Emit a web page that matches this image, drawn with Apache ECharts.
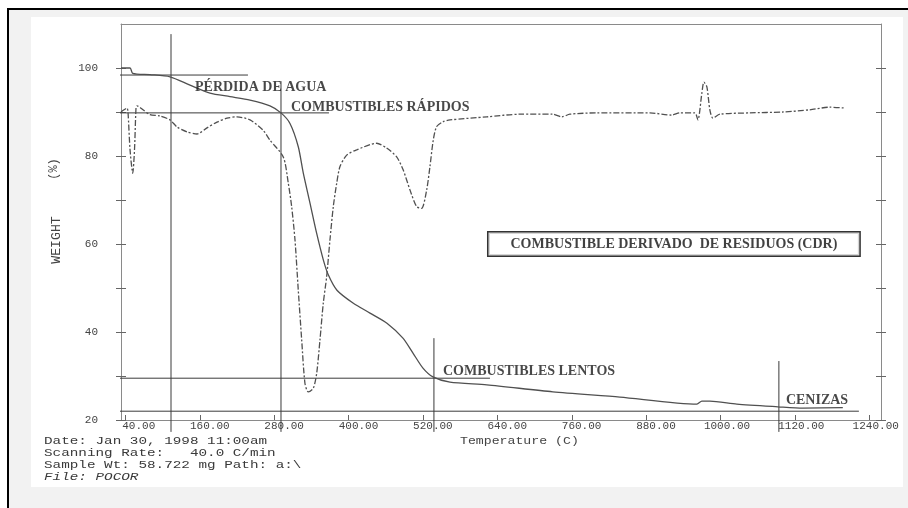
<!DOCTYPE html>
<html>
<head>
<meta charset="utf-8">
<script src="https://cdn.jsdelivr.net/npm/echarts@6/dist/echarts.min.js"></script>
<style>html,body{margin:0;padding:0;background:#fff}#c{width:908px;height:508px}</style>
</head>
<body>
<div id="c"></div>
<script>
// ---- axis ticks / labels ----
const xTickValues = [40,160,280,400,520,640,760,880,1000,1120,1240];
const xTickLabels = ['40.00','160.00','280.00','400.00','520.00','640.00','760.00','880.00','1000.00','1120.00','1240.00'];
const yTickValues = [20,30,40,50,60,70,80,90,100];
const yLabelValues = [20,40,60,80,100];
const yTickLabels = ['20','40','60','80','100'];

// ---- TGA weight curve (solid): [temperature C, weight %] ----
const weightTemp = [32.5,47.1,51.4,79.3,111.6,143.9,176.1,208.4,240.7,272.9,290.7,305.2,318.6,326.7,337.5,348.3,359.0,367.0,381.0,406.9,434.3,461.7,487.5,503.7,519.8,535.9,563.4,623.0,729.5,837.6,961.9,969.9,982.8,1026.4,1092.6,1132.9,1197.4];
const weightPct  = [100.0,100.0,98.8,98.5,98.0,96.1,94.3,93.5,92.7,91.4,89.8,87.4,82.1,76.1,69.3,62.4,56.4,53.0,49.5,46.6,44.3,42.0,38.6,35.2,31.8,29.8,28.6,28.0,26.4,25.2,23.6,24.3,24.3,23.6,23.0,22.7,22.8];

// ---- derivative curve (dash-dot): [temperature C, plotted value] ----
const derivTemp = [32.5,37.4,42.2,43.8,47.1,51.4,54.3,56.7,58.3,68.0,79.3,95.5,111.6,122.9,139.0,155.2,171.3,187.4,203.6,219.7,240.7,261.6,272.9,294.4,302.5,307.9,313.3,318.6,324.1,329.4,334.7,342.8,348.3,353.6,358.9,364.4,369.7,375.1,380.6,385.9,396.7,412.8,445.1,461.2,477.4,488.0,498.8,509.6,517.7,525.8,531.1,536.4,541.9,552.5,563.4,623.0,676.3,729.5,744.1,756.9,800.5,886.0,921.5,934.4,958.6,963.5,969.9,973.2,978.0,982.8,987.7,999.0,1047.4,1100.6,1144.2,1176.4,1200.6];
const derivVal  = [90.0,90.5,90.9,90.0,81.4,76.1,81.4,90.9,91.4,90.5,89.4,89.1,88.2,86.6,85.5,85.0,86.4,87.7,88.6,88.9,88.2,85.9,83.6,79.8,73.8,68.5,60.9,49.5,38.2,28.3,26.4,27.2,30.6,38.2,46.5,52.6,60.9,68.5,73.8,77.6,80.2,81.4,82.9,81.8,79.8,76.8,72.3,68.5,68.1,72.3,77.6,83.6,86.7,87.8,88.2,88.9,89.5,89.5,88.9,89.5,89.8,89.8,89.3,89.8,89.8,88.2,94.3,96.8,95.7,90.5,88.6,89.5,89.8,90.0,90.5,91.1,90.9];

// ---- guide lines (data units) ----
const guideLeft = -72.3;
const guideHy    = [98.4, 89.8, 29.5, 22.0];
const guideHxEnd = [237.4, 368.1, 627.9, 1223.3];
const guideVx    = [113.2, 290.7, 537.5, 1094.2];
const guideVyTop = [107.7, 97.0, 38.6, 33.4];
const guideBottom = 17.3;

// ---- annotation texts (data units: left x / centre y) ----
const noteText = ['PÉRDIDA DE AGUA','COMBUSTIBLES RÁPIDOS','COMBUSTIBLES LENTOS','CENIZAS'];
const noteX = [151.9, 306.8, 552.1, 1105.5];
const noteY = [95.5, 91.1, 31.1, 24.5];
const boxText = 'COMBUSTIBLE DERIVADO  DE RESIDUOS (CDR)';
const boxX = 924.8, boxY = 60;

const footerLines = ['Date: Jan 30, 1998 11:00am','Scanning Rate:   40.0 C/min','Sample Wt: 58.722 mg Path: a:\\','File: POCOR'];

const zip = (a,b) => a.map((v,i)=>[v,b[i]]);
const mono = 'Liberation Mono, DejaVu Sans Mono, monospace';
const serif = 'Liberation Serif, Times New Roman, serif';

const series = [];
series.push({type:'line', data: zip(weightTemp, weightPct), showSymbol:false, symbol:'none', smooth:0.25,
  lineStyle:{color:'#505050', width:1.3}, z:5, silent:true});
series.push({type:'line', data: zip(derivTemp, derivVal), showSymbol:false, symbol:'none', smooth:0.25,
  lineStyle:{color:'#505050', width:1.3, type:[6,2,2,2]}, z:5, silent:true});
guideHy.forEach((y,i)=>{
  series.push({type:'line', data:[[guideLeft,y],[guideHxEnd[i],y]], symbol:'none', clip:false, silent:true,
    lineStyle:{color:'#3a3a3a', width:1}, z:4});
});
guideVx.forEach((x,i)=>{
  series.push({type:'line', data:[[x,guideVyTop[i]],[x,guideBottom]], symbol:'none', clip:false, silent:true,
    lineStyle:{color:'#3a3a3a', width:1}, z:4});
});
series.push({type:'scatter', symbolSize:0, silent:true, clip:false, z:6,
  data: noteText.map((t,i)=>({value:[noteX[i], noteY[i]], label:{show:true, formatter:t, position:'right', distance:0,
    fontFamily:serif, fontWeight:'bold', fontSize:14, color:'#1a1a1a'}}))
});
series.push({type:'scatter', symbolSize:0, silent:true, clip:false, z:6,
  data:[{value:[boxX, boxY], label:{show:true, formatter:boxText, position:'inside', align:'center', verticalAlign:'middle',
    fontFamily:serif, fontWeight:'bold', fontSize:14, color:'#111', backgroundColor:'#fff',
    borderColor:'#000', borderWidth:1.5, padding:[5,22,4,22]}}]
});

const graphic = [
  {type:'rect', z:-20, silent:true, shape:{x:8,y:9,width:1000,height:600}, style:{fill:'#f2f2f2', stroke:'#000', lineWidth:2}},
  {type:'rect', z:-19, silent:true, shape:{x:31,y:17,width:872,height:470}, style:{fill:'#fff'}},
  {type:'text', x:57, y:240, rotation:Math.PI/2, scaleX:1.1, silent:true, style:{text:'WEIGHT', font:'12px '+mono, fill:'#444', align:'center', verticalAlign:'middle'}},
  {type:'text', x:54, y:169, rotation:Math.PI/2, silent:true, style:{text:'(%)', font:'12px '+mono, fill:'#444', align:'center', verticalAlign:'middle'}},
  {type:'text', x:460, y:441, scaleX:1.2, silent:true, style:{text:'Temperature (C)', font:'11px '+mono, fill:'#444', align:'left', verticalAlign:'middle'}}
];
footerLines.forEach((t,i)=>{
  graphic.push({type:'text', x:44, y:441+12*i, scaleX:1.3, silent:true,
    style:{text:t, font:(i===3?'italic ':'')+'11px '+mono, fill:'#3a3a3a', align:'left', verticalAlign:'middle'}});
});

const frameLine = {show:true, lineStyle:{color:'#8a8a8a', width:1}};
const option = {
  backgroundColor:'#fff',
  animation:false,
  grid:{left:121, right:27, top:24, bottom:88, containLabel:false},
  xAxis:[
    {type:'value', min:32.5, max:1259, position:'bottom', axisLine:frameLine,
     splitLine:{show:false},
     axisTick:{show:true, inside:true, length:5, customValues:xTickValues, lineStyle:{color:'#666'}},
     axisLabel:{show:true, customValues:xTickValues, margin:1, fontFamily:mono, fontSize:11, color:'#444',
       align:'center', padding:[0,0,0,13],
       formatter:(v)=>{const i=xTickValues.indexOf(v); return (i>=0?xTickLabels[i]:'').padStart(7,' ');}}},
    {type:'value', min:32.5, max:1259, position:'top', axisLine:frameLine, axisTick:{show:false}, axisLabel:{show:false}, splitLine:{show:false}}
  ],
  yAxis:[
    {type:'value', min:20, max:110, position:'left', axisLine:frameLine, splitLine:{show:false},
     axisTick:{show:true, inside:false, length:5, customValues:yTickValues, lineStyle:{color:'#666'}},
     axisLabel:{show:true, customValues:yLabelValues, margin:23, fontFamily:mono, fontSize:11, color:'#444',
       formatter:(v)=>{const i=yLabelValues.indexOf(v); return i>=0?yTickLabels[i]:'';}}},
    {type:'value', min:20, max:110, position:'left', axisLine:{show:false}, splitLine:{show:false},
     axisTick:{show:true, inside:true, length:5, customValues:yTickValues, lineStyle:{color:'#666'}}, axisLabel:{show:false}},
    {type:'value', min:20, max:110, position:'right', axisLine:frameLine, splitLine:{show:false},
     axisTick:{show:true, inside:true, length:5, customValues:yTickValues, lineStyle:{color:'#666'}}, axisLabel:{show:false}},
    {type:'value', min:20, max:110, position:'right', axisLine:{show:false}, splitLine:{show:false},
     axisTick:{show:true, inside:false, length:5, customValues:yTickValues, lineStyle:{color:'#666'}}, axisLabel:{show:false}}
  ],
  graphic: graphic,
  series: series
};
const chart = echarts.init(document.getElementById('c'), null, {renderer:'canvas'});
chart.setOption(option);
</script>
</body>
</html>
